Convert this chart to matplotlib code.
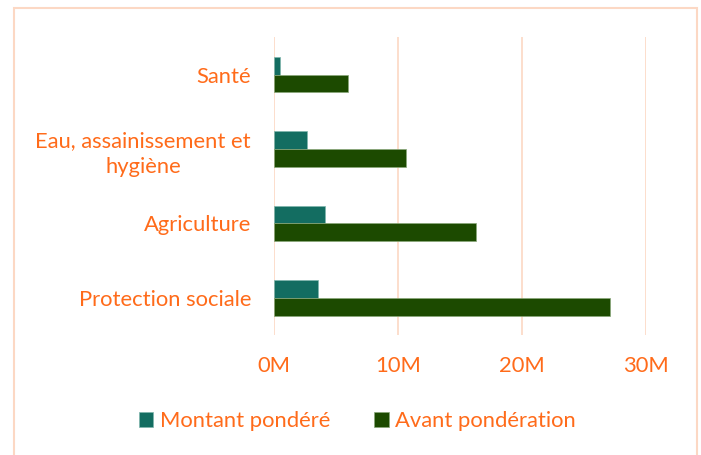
#!/usr/bin/env python3

import matplotlib
matplotlib.use("Agg")
import matplotlib.pyplot as plt
import numpy as np
from matplotlib.patches import Rectangle
from matplotlib.ticker import FuncFormatter

plt.rcParams['font.family'] = ['Lato', 'DejaVu Sans']

ORANGE = '#FF6B1A'
GRID = '#FCD8C4'
TEAL = '#136D61'
GREEN = '#1C4A00'
FS = 15.8

# data (millions), bottom to top
categories = ["Protection sociale", "Agriculture",
              "Eau, assainissement et\nhygiène", "Santé"]
montant_pondere = [3.52, 4.08, 2.69, 0.51]
avant_ponderation = [27.07, 16.3, 10.64, 5.94]
xticks = [0, 10, 20, 30]

W, H = 701, 455
fig = plt.figure(figsize=(W / 100, H / 100), dpi=100)

# axes placed in pixel terms
left, right, top, bottom = 274, 646, 37.3, 335
ax = fig.add_axes([left / W, 1 - bottom / H, (right - left) / W, (bottom - top) / H])

y = np.arange(len(categories))
h = 0.238
ax.barh(y + h / 2, montant_pondere, height=h, color=TEAL,
        edgecolor='#7fb5ad', linewidth=0.5, label="Montant pondéré", zorder=3)
ax.barh(y - h / 2, avant_ponderation, height=h, color=GREEN,
        edgecolor='#8aa87a', linewidth=0.5, label="Avant pondération", zorder=3)

ax.set_xlim(0, 30)
ax.set_ylim(-0.5, len(categories) - 0.5)
ax.set_xticks(xticks)
ax.xaxis.set_major_formatter(FuncFormatter(lambda v, p: f"{v:.0f}M"))
ax.set_yticks(y)
ax.set_yticklabels(categories)
for t in ax.get_yticklabels():
    t.set_multialignment('center')
    t.set_linespacing(1.4)

ax.tick_params(axis='both', length=0, labelsize=FS, labelcolor=ORANGE)
ax.tick_params(axis='y', pad=16.5)
ax.tick_params(axis='x', pad=15)
ax.grid(axis='x', color=GRID, linewidth=1.2, zorder=0)
for s in ax.spines.values():
    s.set_visible(False)

leg = fig.legend(loc='center', bbox_to_anchor=(357.5 / W, 1 - 421 / H), ncol=2,
                 frameon=False, fontsize=FS, labelcolor=ORANGE,
                 handlelength=0.65, handleheight=0.65, handletextpad=0.3,
                 columnspacing=2.0)

# light orange frame around the chart
fig.patches.append(Rectangle((14 / W, -0.02), (697 - 14) / W, 1 - 8 / H + 0.02,
                             transform=fig.transFigure, fill=False,
                             edgecolor=GRID, linewidth=1.5))

plt.savefig("out.png", dpi=100)
